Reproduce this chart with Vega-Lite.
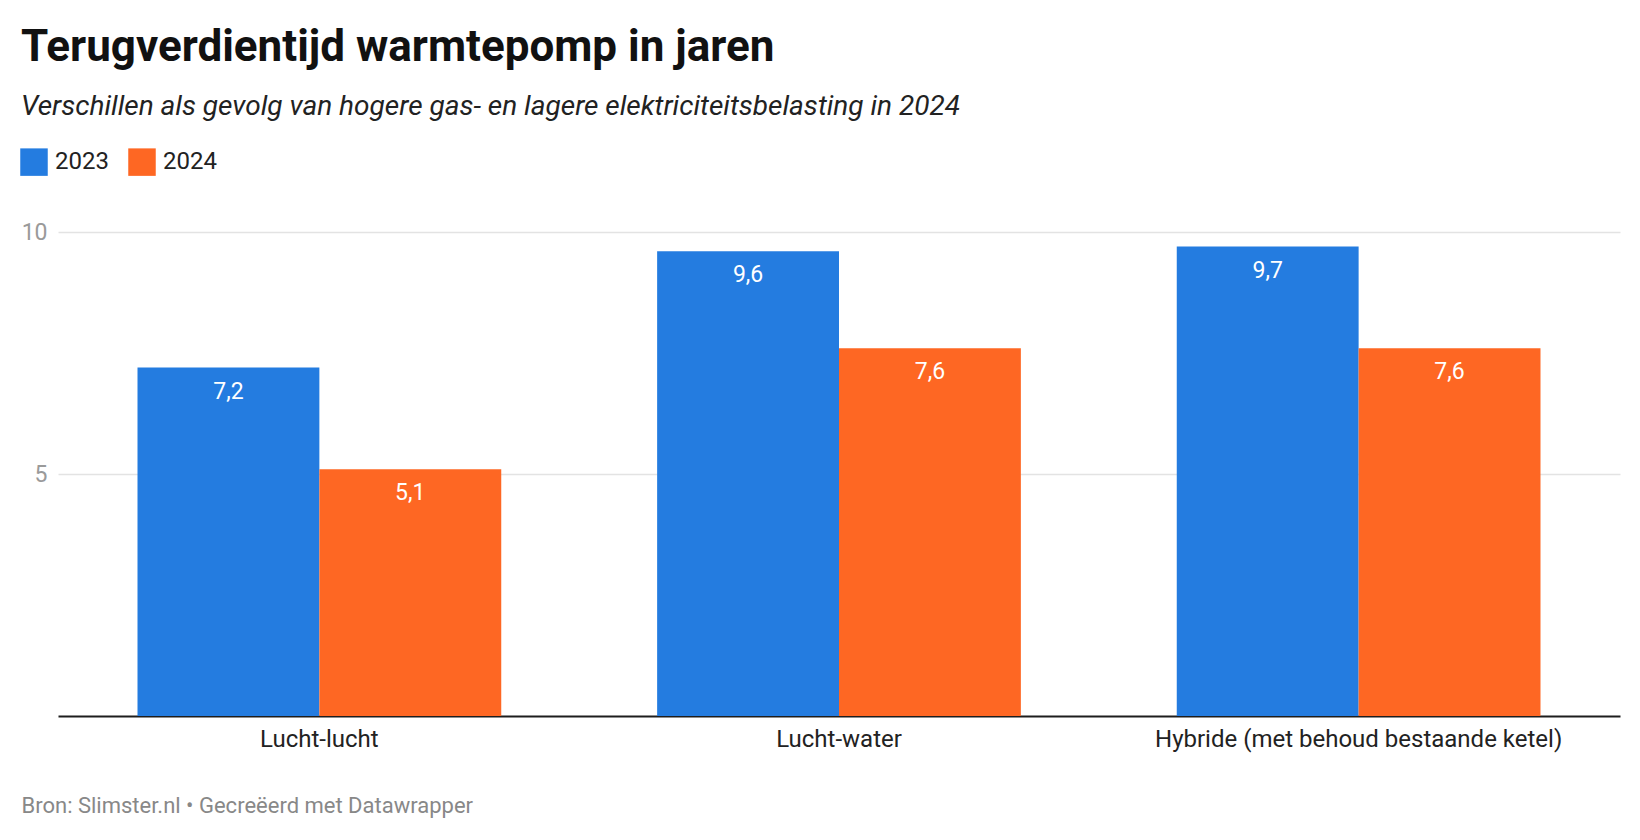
{
  "$schema": "https://vega.github.io/schema/vega-lite/v6.json",
  "width": 1562,
  "height": 484,
  "autosize": {"type": "none"},
  "padding": {"left": 58, "top": 232, "right": 20, "bottom": 124},
  "background": "white",
  "title": {
    "text": "Terugverdientijd warmtepomp in jaren",
    "subtitle": "Verschillen als gevolg van hogere gas- en lagere elektriciteitsbelasting in 2024",
    "anchor": "start",
    "frame": "group",
    "dx": -37,
    "offset": 27,
    "font": "Roboto",
    "fontSize": 44,
    "fontWeight": "bold",
    "color": "#111111",
    "subtitleFont": "Roboto",
    "subtitleFontSize": 28,
    "subtitleFontStyle": "italic",
    "subtitleColor": "#222222",
    "subtitlePadding": 23
  },
  "config": {
    "locale": {"number": {"decimal": ",", "thousands": ".", "grouping": [3], "currency": ["€", ""]}},
    "view": {"stroke": null},
    "font": "Roboto"
  },
  "data": {
    "values": [
      {"category": "Lucht-lucht", "year": "2023", "value": 7.2},
      {"category": "Lucht-lucht", "year": "2024", "value": 5.1},
      {"category": "Lucht-water", "year": "2023", "value": 9.6},
      {"category": "Lucht-water", "year": "2024", "value": 7.6},
      {"category": "Hybride (met behoud bestaande ketel)", "year": "2023", "value": 9.7},
      {"category": "Hybride (met behoud bestaande ketel)", "year": "2024", "value": 7.6}
    ]
  },
  "encoding": {
    "x": {
      "field": "category",
      "type": "nominal",
      "sort": null,
      "scale": {"paddingInner": 0.3, "paddingOuter": 0.153},
      "axis": {
        "title": "Bron: Slimster.nl • Gecreëerd met Datawrapper",
        "titleFont": "Roboto",
        "titleFontSize": 22,
        "titleFontWeight": "normal",
        "titleColor": "#888888",
        "titleAlign": "left",
        "titleBaseline": "alphabetic",
        "titleX": -37,
        "titleY": 96,
        "labelAngle": 0,
        "labelFont": "Roboto",
        "labelFontSize": 24,
        "labelColor": "#222222",
        "labelPadding": 11,
        "labelLimit": 0,
        "ticks": false,
        "domainColor": "#1d1d1d",
        "domainWidth": 2,
        "grid": false
      }
    },
    "xOffset": {"field": "year", "type": "nominal", "scale": {"paddingInner": 0, "paddingOuter": 0}},
    "y": {
      "field": "value",
      "type": "quantitative",
      "scale": {"domain": [0, 10]},
      "axis": {
        "title": null,
        "values": [5, 10],
        "labelFont": "Roboto",
        "labelFontSize": 23,
        "labelColor": "#9a9a9a",
        "labelPadding": 11,
        "ticks": false,
        "domain": false,
        "gridColor": "#e3e3e3",
        "gridWidth": 1.4
      }
    }
  },
  "layer": [
    {
      "mark": {"type": "bar"},
      "encoding": {
        "color": {
          "field": "year",
          "type": "nominal",
          "scale": {"domain": ["2023", "2024"], "range": ["#247ce0", "#fe6723"]},
          "legend": {
            "title": null,
            "orient": "none",
            "legendX": -38,
            "legendY": -84,
            "direction": "horizontal",
            "symbolType": "square",
            "symbolSize": 756,
            "symbolStrokeWidth": 0,
            "labelFont": "Roboto",
            "labelFontSize": 24,
            "labelColor": "#222222",
            "labelOffset": 7,
            "columnPadding": 19,
            "padding": 0
          }
        }
      }
    },
    {
      "mark": {"type": "text", "align": "center", "baseline": "alphabetic", "dy": 31, "color": "white", "fontSize": 23, "font": "Roboto"},
      "encoding": {
        "text": {"field": "value", "type": "quantitative", "format": ".1f"}
      }
    }
  ]
}
